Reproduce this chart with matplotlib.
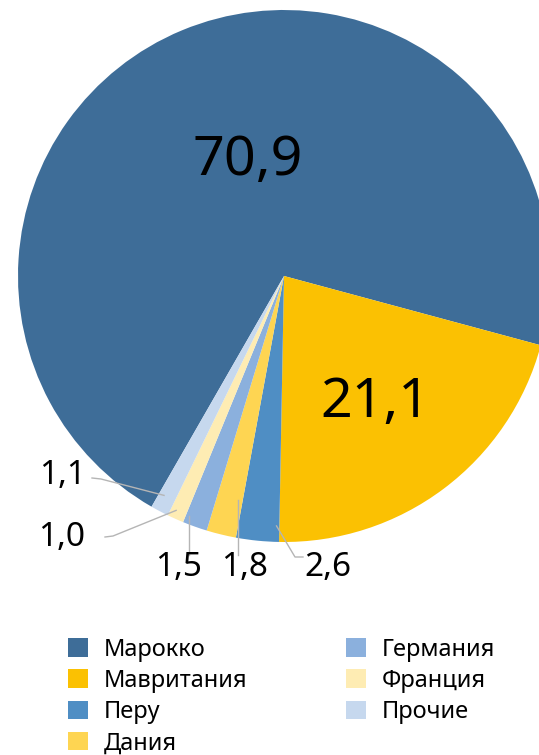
import numpy as np
import matplotlib

matplotlib.use("Agg")
import matplotlib.pyplot as plt

plt.rcParams["font.family"] = ["Noto Sans", "DejaVu Sans"]

countries = ["Марокко", "Мавритания", "Перу", "Дания", "Германия", "Франция", "Прочие"]
shares = [70.9, 21.1, 2.6, 1.8, 1.5, 1.0, 1.1]
share_labels = ["70,9", "21,1", "2,6", "1,8", "1,5", "1,0", "1,1"]
colors = ["#3e6d98", "#fbc102", "#4f8ec4", "#fed552", "#8bb0dd", "#feecb3", "#c6d8ee"]

W, H = 539, 755
fig = plt.figure(figsize=(W / 100, H / 100), dpi=100)
ax = fig.add_axes([0, 0, 1, 1])

cx, cy, R = 284, H - 276, 266
start = -15.1 + shares[0] * 3.6
wedges, _ = ax.pie(
    shares,
    colors=colors,
    startangle=start,
    counterclock=False,
    center=(cx, cy),
    radius=R,
    wedgeprops={"linewidth": 0},
)
ax.set_xlim(0, W)
ax.set_ylim(0, H)
ax.set_aspect("equal")
ax.axis("off")

# big labels inside the two main slices
ax.text(248, H - 160, share_labels[0], fontsize=40, ha="center", va="center")
ax.text(375, H - 402, share_labels[1], fontsize=40, ha="center", va="center")

# small slices: (position along wedge, radius fraction, leader points, text position)
# leader point x of None -> vertical drop from the anchor
small = {
    2: (0.07, 0.94, [(295, 557), (303, 557)], (328, 568)),
    3: (0.17, 0.86, [(None, 555)], (245, 567)),
    4: (0.89, 0.97, [(None, 555)], (178, 567)),
    5: (0.67, 0.97, [(113, 536), (105, 537)], (62, 537)),
    6: (0.70, 0.94, [(101, 479), (92, 478)], (62, 475)),
}
for i, (f, rf, pts, tpos) in small.items():
    w = wedges[i]
    ang = np.deg2rad(w.theta2 - f * (w.theta2 - w.theta1))
    ax0 = cx + rf * R * np.cos(ang)
    ay0 = cy + rf * R * np.sin(ang)
    xs = [ax0] + [ax0 if p[0] is None else p[0] for p in pts]
    ys = [ay0] + [H - p[1] for p in pts]
    ax.plot(xs, ys, color="#b5b5b5", lw=1)
    ax.text(tpos[0], H - tpos[1], share_labels[i], fontsize=24, ha="center", va="center")

fig.legend(
    wedges,
    countries,
    ncol=2,
    loc="upper left",
    bbox_to_anchor=(68 / W, 1 - 638 / H),
    frameon=False,
    fontsize=17,
    handlelength=0.85,
    handleheight=0.85,
    handletextpad=0.65,
    labelspacing=0.3,
    columnspacing=4.2,
    borderpad=0,
    borderaxespad=0,
)

fig.savefig("out.png", dpi=100)
